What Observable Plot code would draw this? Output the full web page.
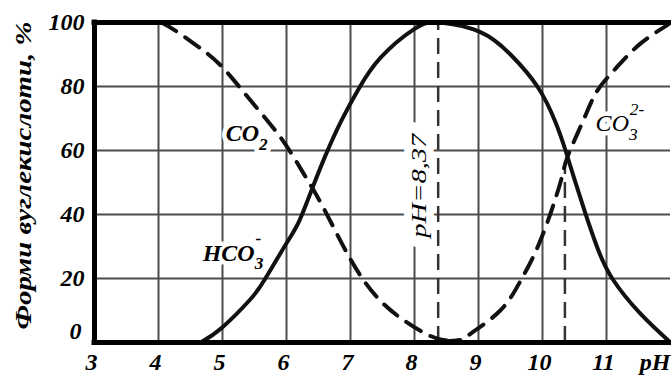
<!DOCTYPE html>
<html>
<head>
<meta charset="utf-8">
<script src="https://cdn.jsdelivr.net/npm/d3@7"></script>
<script src="https://cdn.jsdelivr.net/npm/@observablehq/plot@0.6"></script>
<style>
  html, body { margin: 0; padding: 0; background: #fff; }
</style>
</head>
<body>
<div id="chart"></div>
<script>
// ---- data ----
const xTicks = [3, 4, 5, 6, 7, 8, 9, 10, 11];
const xLastLabel = "pH";
const yTicks = [0, 20, 40, 60, 80, 100];
const gridPH = [4, 5, 6, 7, 8, 9, 10, 11];
const gridVal = [20, 40, 60, 80];
const yTitle = "Форми вуглекислоти, %";

// CO2 (dashed)
const co2PH  = [4.05, 4.3, 4.65, 5.0, 5.44, 5.91, 6.27, 6.58, 7.0, 7.52, 8.15, 8.45, 8.62];
const co2Val = [100, 97, 92, 86, 75.6, 64, 52.7, 42, 26, 12, 3, 0.8, 0.3];

// HCO3- (solid)
const hco3PH  = [4.66, 5.0, 5.44, 5.67, 6.0, 6.2, 6.4, 6.6, 6.85, 7.12, 7.47, 8.0, 8.4, 9.03, 9.5, 9.92, 10.2, 10.36, 10.5, 10.66, 10.85, 11.09, 11.53, 12.0];
const hco3Val = [0, 4.8, 13.6, 20, 31, 38, 48, 58, 69, 79, 89, 98, 100, 97, 90, 80, 69, 60, 51, 41, 30, 20, 9, 0];

// CO3 2- (dashed)
const co3PH  = [8.45, 8.72, 8.88, 9.34, 9.66, 9.97, 10.28, 10.39, 10.65, 10.86, 11.16, 11.53, 11.92, 12.0];
const co3Val = [0.3, 0.8, 2.8, 10, 19.4, 32, 50, 58, 70, 78.8, 86, 93.4, 98.8, 100];

// reference verticals
const pHmark = 8.37;
const pHmarkLabel = "pH=8,37";
const pKa2 = 10.35;
const pKa2Top = 55;

// curve labels (anchor points in data space)
const labelText = ["CO_2", "HCO_3^-"];
const labelPH = [5.05, 4.69];
const labelVal = [63, 25.6];
const co3Label = "CO_3^2-";
const co3LabelPH = 10.83;
const co3LabelVal = 66;
const pHLabelPH = 8.08;
const pHLabelVal = 49;

// ---- tables ----
const co2 = co2PH.map((p, i) => ({ph: p, v: co2Val[i]}));
const hco3 = hco3PH.map((p, i) => ({ph: p, v: hco3Val[i]}));
const co3 = co3PH.map((p, i) => ({ph: p, v: co3Val[i]}));
const labels = labelText.map((t, i) => ({t, ph: labelPH[i], v: labelVal[i]}));

const serif = "'Liberation Serif', 'Times New Roman', serif";
const txt = {fontFamily: serif, fontSize: 24, fontWeight: "bold", fontStyle: "italic", fill: "black"};

const chart = Plot.plot({
  width: 671,
  height: 376,
  marginLeft: 94,
  marginRight: 1,
  marginTop: 22,
  marginBottom: 34,
  x: {domain: [3, 12], axis: null},
  y: {domain: [0, 100], axis: null},
  style: {fontFamily: serif, background: "white", color: "black", overflow: "visible"},
  marks: [
    Plot.ruleX(gridPH, {stroke: "#4d4d4d", strokeWidth: 2}),
    Plot.ruleY(gridVal, {stroke: "#4d4d4d", strokeWidth: 2}),

    // labels with white halo (interrupt the grid)
    Plot.text(labels, {x: "ph", y: "v", text: "t", textAnchor: "start", lineAnchor: "bottom",
      ...txt, stroke: "white", strokeWidth: 9, strokeLinejoin: "round", paintOrder: "stroke"}),
    Plot.text([co3Label], {x: [co3LabelPH], y: [co3LabelVal], text: d => d, textAnchor: "start", lineAnchor: "bottom",
      ...txt, fontWeight: "normal", stroke: "white", strokeWidth: 9, strokeLinejoin: "round", paintOrder: "stroke"}),
    Plot.text([pHmarkLabel], {x: [pHLabelPH], y: [pHLabelVal], text: d => d, rotate: -90,
      textAnchor: "middle", lineAnchor: "middle",
      ...txt, fontSize: 21, fontWeight: "normal", stroke: "white", strokeWidth: 16, strokeLinejoin: "round", paintOrder: "stroke"}),

    // reference verticals
    Plot.ruleX([pHmark], {y1: 0, y2: 100, stroke: "#333", strokeWidth: 2.5, strokeDasharray: "16,8"}),
    Plot.ruleX([pKa2], {y1: 0, y2: pKa2Top, stroke: "#333", strokeWidth: 2.5, strokeDasharray: "16,8"}),

    // curves
    Plot.line(co2, {x: "ph", y: "v", curve: "natural", stroke: "#111", strokeWidth: 4, strokeDasharray: "17,11"}),
    Plot.line(co3, {x: "ph", y: "v", curve: "natural", stroke: "#111", strokeWidth: 4, strokeDasharray: "17,11"}),
    Plot.line(hco3, {x: "ph", y: "v", curve: "natural", stroke: "#111", strokeWidth: 4}),

    // frame
    Plot.ruleY([0, 100], {stroke: "black", strokeWidth: 5, strokeLinecap: "square"}),
    Plot.ruleX([3], {stroke: "black", strokeWidth: 5, strokeLinecap: "square"}),

    // tick labels (as text marks positioned by the scales)
    Plot.text(xTicks, {x: d => d, text: d => String(d), frameAnchor: "bottom", textAnchor: "middle", lineAnchor: "top",
      dy: 10, dx: -3, ...txt}),
    Plot.text([xLastLabel], {x: [12], frameAnchor: "bottom", textAnchor: "end", lineAnchor: "top", dy: 10, ...txt}),
    Plot.text(yTicks.filter(d => d !== 0), {y: d => d, text: d => String(d), frameAnchor: "left", textAnchor: "end",
      lineAnchor: "middle", dx: -10, ...txt}),
    Plot.text(yTicks.filter(d => d === 0), {y: d => d, text: d => String(d), frameAnchor: "left", textAnchor: "end",
      lineAnchor: "middle", dx: -13, dy: -11, ...txt}),

    // y title
    Plot.text([yTitle], {frameAnchor: "left", dx: -71, dy: -7, rotate: -90, textAnchor: "middle", lineAnchor: "middle",
      ...txt})
  ]
});

document.getElementById("chart").appendChild(chart);

// ---- post-process: chemical sub/superscripts, text lengths ----
const NS = "http://www.w3.org/2000/svg";
d3.select(chart).selectAll("text").each(function () {
  const s = this.textContent;
  if (s.includes("_")) {
    const m = s.match(/^([^_^]+)(?:_([^^]+))?(?:\^(.+))?$/);
    if (!m) return;
    while (this.firstChild) this.removeChild(this.firstChild);
    const base = document.createElementNS(NS, "tspan");
    base.textContent = m[1];
    this.appendChild(base);
    if (m[2]) {
      const sub = document.createElementNS(NS, "tspan");
      sub.setAttribute("font-size", "0.72em");
      sub.setAttribute("dy", "0.5em");
      sub.textContent = m[2];
      this.appendChild(sub);
    }
    if (m[3]) {
      const sup = document.createElementNS(NS, "tspan");
      sup.setAttribute("font-size", "0.72em");
      sup.setAttribute("dx", m[2] ? "-0.45em" : "0");
      sup.setAttribute("dy", m[2] ? "-1.45em" : "-0.9em");
      sup.textContent = m[3];
      this.appendChild(sup);
    }
  } else if (s === yTitle) {
    this.setAttribute("textLength", 308);
    this.setAttribute("lengthAdjust", "spacingAndGlyphs");
  } else if (s === pHmarkLabel) {
    this.setAttribute("textLength", 104);
    this.setAttribute("lengthAdjust", "spacingAndGlyphs");
  }
});
</script>
</body>
</html>
